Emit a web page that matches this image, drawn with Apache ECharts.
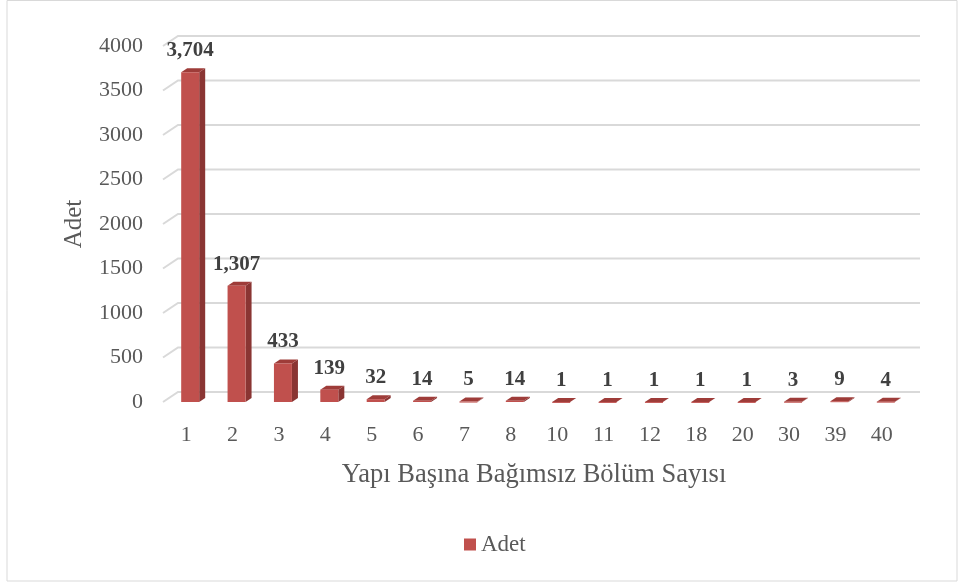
<!DOCTYPE html>
<html>
<head>
<meta charset="utf-8">
<script src="https://cdn.jsdelivr.net/npm/echarts@6/dist/echarts.min.js"></script>
<style>
  html, body { margin: 0; padding: 0; background: #fff; }
  #chart { width: 958px; height: 583px; }
</style>
</head>
<body>
<div id="chart"></div>
<script>
var categories = ['1', '2', '3', '4', '5', '6', '7', '8', '10', '11', '12', '18', '20', '30', '39', '40'];
var adet = [3704, 1307, 433, 139, 32, 14, 5, 14, 1, 1, 1, 1, 1, 3, 9, 4];
var yTicks = [0, 500, 1000, 1500, 2000, 2500, 3000, 3500, 4000];

var font = '"Liberation Serif", "Times New Roman", serif';
var chart = echarts.init(document.getElementById('chart'));

// wall depth for the gridlines, bar depth for the columns
var wallDx = 15, wallDy = -10;
var barW = 18, barDx = 6, barDy = -4, barShift = 4;

function renderGrid(params, api) {
    var cs = params.coordSys;
    var y = api.coord([0, api.value(0)])[1];
    return {
        type: 'polyline',
        shape: {
            points: [[cs.x, y], [cs.x + wallDx, y + wallDy], [cs.x + cs.width + wallDx, y + wallDy]]
        },
        style: { stroke: '#D9D9D9', lineWidth: 2, fill: null }
    };
}

function renderBar(params, api) {
    var idx = api.value(0);
    var v = api.value(1);
    var base = api.coord([idx, 0]);
    var top = api.coord([idx, v]);
    var x0 = base[0] - barW / 2 + barShift;
    var yb = base[1], yt = top[1];
    return {
        type: 'group',
        children: [
            {
                type: 'polygon',
                shape: { points: [[x0 + barW, yt], [x0 + barW + barDx, yt + barDy], [x0 + barW + barDx, yb + barDy], [x0 + barW, yb]] },
                style: { fill: '#8A3533' }
            },
            {
                type: 'polygon',
                shape: { points: [[x0, yt], [x0 + barDx, yt + barDy], [x0 + barW + barDx, yt + barDy], [x0 + barW, yt]] },
                style: { fill: '#9E3C39' }
            },
            {
                type: 'rect',
                shape: { x: x0, y: yt, width: barW, height: Math.max(yb - yt, 1) },
                style: { fill: '#C0504D' }
            },
            {
                type: 'text',
                x: x0 + barW / 2,
                y: yt - 11,
                style: {
                    text: echarts.format.addCommas(v),
                    fill: '#404040',
                    font: 'bold 21px ' + font,
                    align: 'center',
                    verticalAlign: 'bottom'
                }
            }
        ]
    };
}

chart.setOption({
    animation: false,
    backgroundColor: '#fff',
    graphic: [{
        type: 'rect',
        shape: { x: 7, y: 0.5, width: 950, height: 580.5 },
        style: { fill: null, stroke: '#D9D9D9', lineWidth: 1 },
        silent: true
    }],
    grid: { left: 163, right: 53, top: 46, bottom: 181 },
    legend: {
        bottom: 22,
        left: 459,
        itemWidth: 12,
        itemHeight: 12,
        itemGap: 6,
        icon: 'rect',
        textStyle: { fontFamily: font, fontSize: 23, color: '#595959' },
        data: [{ name: 'Adet', itemStyle: { color: '#C0504D' } }]
    },
    xAxis: {
        type: 'category',
        data: categories,
        axisLine: { show: false },
        axisTick: { show: false },
        axisLabel: { fontFamily: font, fontSize: 22, color: '#595959', margin: 22 },
        name: 'Yapı Başına Bağımsız Bölüm Sayısı',
        nameLocation: 'middle',
        nameGap: 60,
        nameTextStyle: { fontFamily: font, fontSize: 26.5, color: '#595959' }
    },
    yAxis: {
        type: 'value',
        min: 0,
        max: 4000,
        interval: 500,
        axisLine: { show: false },
        axisTick: { show: false },
        splitLine: { show: false },
        axisLabel: {
            fontFamily: font, fontSize: 22, color: '#595959', margin: 20,
            formatter: function (v) { return String(v); }
        },
        name: 'Adet',
        nameLocation: 'middle',
        nameGap: 76,
        nameTextStyle: { fontFamily: font, fontSize: 25, color: '#595959' }
    },
    series: [
        {
            type: 'custom',
            name: 'grid',
            renderItem: renderGrid,
            data: yTicks.map(function (t) { return [t]; }),
            encode: { y: 0 },
            silent: true,
            z: 1
        },
        {
            type: 'custom',
            name: 'Adet',
            renderItem: renderBar,
            data: adet.map(function (v, i) { return [i, v]; }),
            encode: { x: 0, y: 1 },
            itemStyle: { color: '#C0504D' },
            z: 3
        }
    ]
});
</script>
</body>
</html>
